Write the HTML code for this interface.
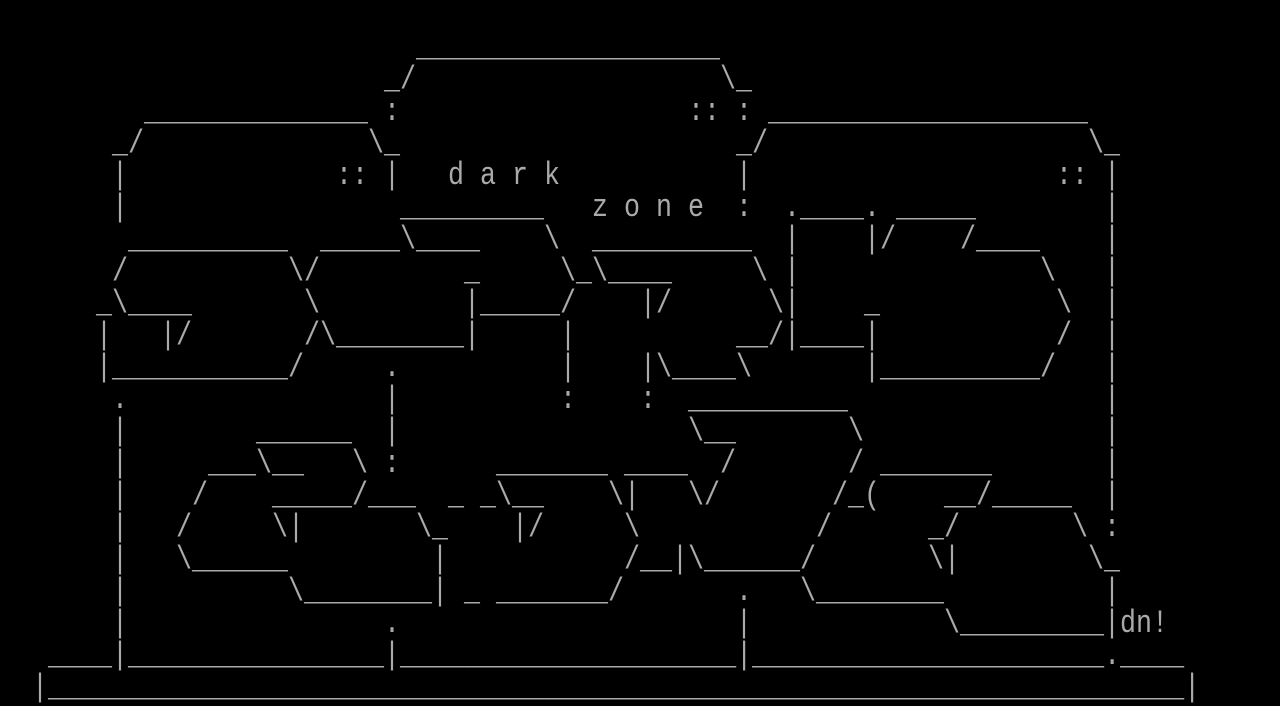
<!DOCTYPE html>
<html><head><meta charset="utf-8"><style>
html,body{margin:0;padding:0;background:#000;width:1280px;height:704px;overflow:hidden}
#g{position:absolute;left:0;top:0;width:768px;height:352px;transform-origin:0 0;transform:scale(1.66667,2)}
#g b{position:absolute;font-weight:normal;left:calc(var(--c)*9.6px);top:calc(var(--r)*16px);font:16px/16px "Liberation Mono",monospace;white-space:pre;color:#aaa}
</style></head><body><div id="g">
<b style="--r:1;--c:26">___________________</b>
<b style="--r:2;--c:24">_/</b><b style="--r:2;--c:45">\_</b>
<b style="--r:3;--c:9">______________</b><b style="--r:3;--c:24">:</b><b style="--r:3;--c:43">::</b><b style="--r:3;--c:46">:</b><b style="--r:3;--c:48">____________________</b>
<b style="--r:4;--c:7">_/</b><b style="--r:4;--c:23">\_</b><b style="--r:4;--c:46">_/</b><b style="--r:4;--c:68">\_</b>
<b style="--r:5;--c:7">|</b><b style="--r:5;--c:21">::</b><b style="--r:5;--c:24">|</b><b style="--r:5;--c:28">d a r k</b><b style="--r:5;--c:46">|</b><b style="--r:5;--c:66">::</b><b style="--r:5;--c:69">|</b>
<b style="--r:6;--c:7">|</b><b style="--r:6;--c:25">_________</b><b style="--r:6;--c:37">z o n e</b><b style="--r:6;--c:46">:</b><b style="--r:6;--c:49">.____.</b><b style="--r:6;--c:56">_____</b><b style="--r:6;--c:69">|</b>
<b style="--r:7;--c:8">__________</b><b style="--r:7;--c:20">_____\____</b><b style="--r:7;--c:34">\</b><b style="--r:7;--c:37">__________</b><b style="--r:7;--c:49">|</b><b style="--r:7;--c:54">|/</b><b style="--r:7;--c:60">/____</b><b style="--r:7;--c:69">|</b>
<b style="--r:8;--c:7">/</b><b style="--r:8;--c:18">\/</b><b style="--r:8;--c:29">_</b><b style="--r:8;--c:35">\_\____</b><b style="--r:8;--c:47">\</b><b style="--r:8;--c:49">|</b><b style="--r:8;--c:65">\</b><b style="--r:8;--c:69">|</b>
<b style="--r:9;--c:6">_\____</b><b style="--r:9;--c:19">\</b><b style="--r:9;--c:29">|_____/</b><b style="--r:9;--c:40">|/</b><b style="--r:9;--c:48">\|</b><b style="--r:9;--c:54">_</b><b style="--r:9;--c:66">\</b><b style="--r:9;--c:69">|</b>
<b style="--r:10;--c:6">|</b><b style="--r:10;--c:10">|/</b><b style="--r:10;--c:19">/\________|</b><b style="--r:10;--c:35">|</b><b style="--r:10;--c:46">__/|____|</b><b style="--r:10;--c:66">/</b><b style="--r:10;--c:69">|</b>
<b style="--r:11;--c:6">|___________/</b><b style="--r:11;--c:24">.</b><b style="--r:11;--c:35">|</b><b style="--r:11;--c:40">|\____\</b><b style="--r:11;--c:54">|__________/</b><b style="--r:11;--c:69">|</b>
<b style="--r:12;--c:7">.</b><b style="--r:12;--c:24">|</b><b style="--r:12;--c:35">:</b><b style="--r:12;--c:40">:</b><b style="--r:12;--c:43">__________</b><b style="--r:12;--c:69">|</b>
<b style="--r:13;--c:7">|</b><b style="--r:13;--c:16">______</b><b style="--r:13;--c:24">|</b><b style="--r:13;--c:43">\__</b><b style="--r:13;--c:53">\</b><b style="--r:13;--c:69">|</b>
<b style="--r:14;--c:7">|</b><b style="--r:14;--c:13">___\__</b><b style="--r:14;--c:22">\</b><b style="--r:14;--c:24">:</b><b style="--r:14;--c:31">_______</b><b style="--r:14;--c:39">____</b><b style="--r:14;--c:45">/</b><b style="--r:14;--c:53">/</b><b style="--r:14;--c:55">_______</b><b style="--r:14;--c:69">|</b>
<b style="--r:15;--c:7">|</b><b style="--r:15;--c:12">/</b><b style="--r:15;--c:17">_____/___</b><b style="--r:15;--c:28">_ _\__</b><b style="--r:15;--c:38">\|</b><b style="--r:15;--c:43">\/</b><b style="--r:15;--c:52">/_(</b><b style="--r:15;--c:59">__/_____</b><b style="--r:15;--c:69">|</b>
<b style="--r:16;--c:7">|</b><b style="--r:16;--c:11">/</b><b style="--r:16;--c:17">\|</b><b style="--r:16;--c:26">\_</b><b style="--r:16;--c:32">|/</b><b style="--r:16;--c:39">\</b><b style="--r:16;--c:51">/</b><b style="--r:16;--c:58">_/</b><b style="--r:16;--c:67">\</b><b style="--r:16;--c:69">:</b>
<b style="--r:17;--c:7">|</b><b style="--r:17;--c:11">\______</b><b style="--r:17;--c:27">|</b><b style="--r:17;--c:39">/__|\______/</b><b style="--r:17;--c:58">\|</b><b style="--r:17;--c:68">\_</b>
<b style="--r:18;--c:7">|</b><b style="--r:18;--c:18">\________|</b><b style="--r:18;--c:29">_</b><b style="--r:18;--c:31">_______/</b><b style="--r:18;--c:46">.</b><b style="--r:18;--c:50">\________</b><b style="--r:18;--c:69">|</b>
<b style="--r:19;--c:7">|</b><b style="--r:19;--c:24">.</b><b style="--r:19;--c:46">|</b><b style="--r:19;--c:59">\_________|dn!</b>
<b style="--r:20;--c:3">____|________________|_____________________|______________________.____</b>
<b style="--r:21;--c:2">|_______________________________________________________________________|</b>
</div></body></html>
